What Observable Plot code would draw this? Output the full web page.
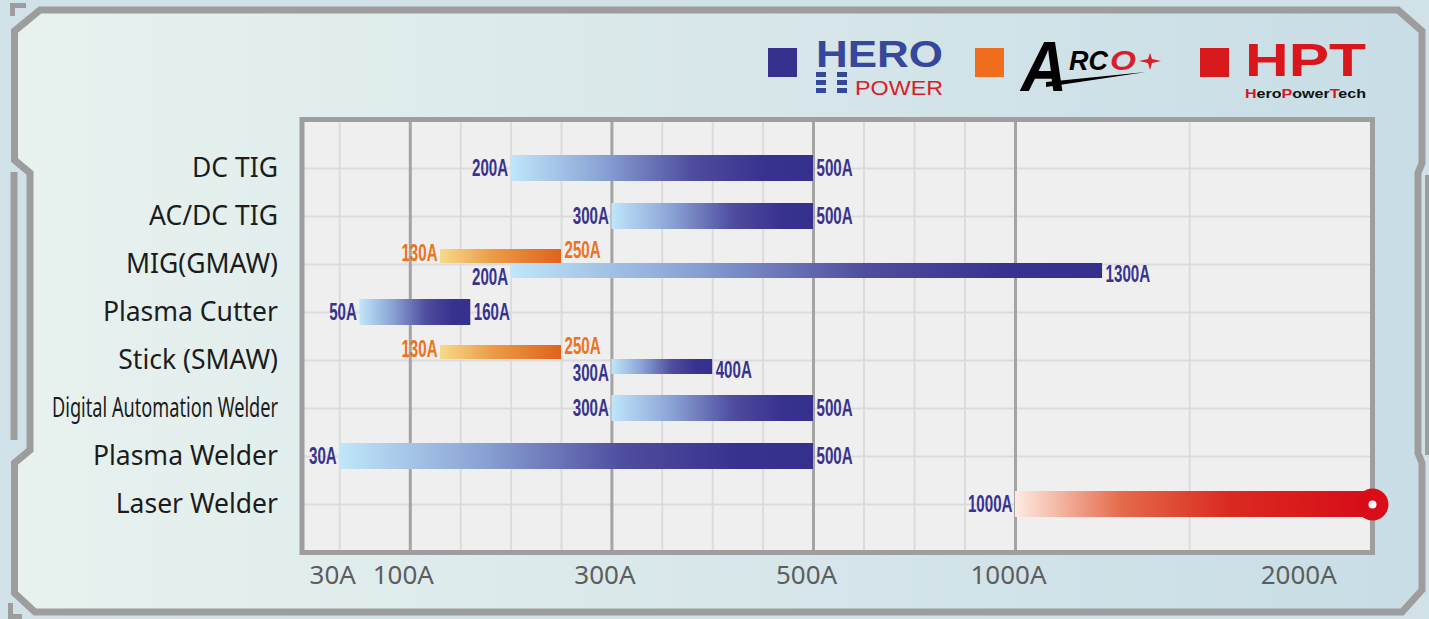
<!DOCTYPE html>
<html><head><meta charset="utf-8">
<script src="https://cdn.jsdelivr.net/npm/d3@7"></script>
<script src="https://cdn.jsdelivr.net/npm/@observablehq/plot@0.6"></script>
<style>
html,body{margin:0;padding:0;background:#cfe0e8;}
#wrap{position:relative;width:1429px;height:619px;overflow:hidden;}
#bg,#legend{position:absolute;left:0;top:0;pointer-events:none;}
#chart{position:absolute;left:0;top:0;}
</style></head><body>
<div id="wrap">
<svg id="bg" width="1429" height="619" viewBox="0 0 1429 619">
  <defs>
    <linearGradient id="bgGrad" x1="0" x2="1" y1="0" y2="0">
      <stop offset="0" stop-color="#e8f2ef"/>
      <stop offset="0.5" stop-color="#d8e7ea"/>
      <stop offset="1" stop-color="#c8dde6"/>
    </linearGradient>
  </defs>
  <rect x="0" y="0" width="1429" height="619" fill="#d0e1e8"/>
  <path d="M40 10 H1398 L1422 31 V163 L1418 173 V453 L1422 463 V590 L1402 612 H35 L14.5 593 V463 L30 450 V173 L14.5 160 V31 Z" fill="url(#bgGrad)" stroke="#9d9d9d" stroke-width="7" stroke-linejoin="miter"/>
  <rect x="10.5" y="172" width="7" height="268" fill="#9d9d9d"/>
  <rect x="1425" y="175" width="6" height="280" fill="#9d9d9d"/>
  <path d="M10 3 H26 V8 H15 V16 H10 Z" fill="#9d9d9d"/>
  <path d="M8 619 V603 H13 V614 H22 V619 Z" fill="#9d9d9d"/>
</svg>
<div id="chart"></div>
<svg id="legend" width="1429" height="619" viewBox="0 0 1429 619">
  <defs>
    <linearGradient id="hptSub" gradientUnits="userSpaceOnUse" x1="1245" x2="1366" y1="0" y2="0">
      <stop offset="0" stop-color="#d8161b"/><stop offset="0.095" stop-color="#d8161b"/>
      <stop offset="0.095" stop-color="#111"/><stop offset="0.299" stop-color="#111"/>
      <stop offset="0.299" stop-color="#d8161b"/><stop offset="0.387" stop-color="#d8161b"/>
      <stop offset="0.387" stop-color="#111"/><stop offset="0.693" stop-color="#111"/>
      <stop offset="0.693" stop-color="#d8161b"/><stop offset="0.773" stop-color="#d8161b"/>
      <stop offset="0.773" stop-color="#111"/><stop offset="1" stop-color="#111"/>
    </linearGradient>
  </defs>
  <rect x="768" y="48" width="29" height="29" fill="#36308f"/>
  <text x="816" y="67" font-family="Liberation Sans" font-weight="bold" font-size="36" fill="#35489b" textLength="127" lengthAdjust="spacingAndGlyphs">HERO</text>
  <g fill="#35489b">
    <rect x="816" y="72" width="10" height="5"/><rect x="816" y="80" width="10" height="5"/><rect x="816" y="88" width="10" height="5"/>
    <rect x="837" y="72" width="10" height="5"/><rect x="837" y="80" width="10" height="5"/><rect x="837" y="88" width="10" height="5"/>
  </g>
  <text x="855" y="95" font-family="Liberation Sans" font-size="21" fill="#d81e2a" textLength="88" lengthAdjust="spacingAndGlyphs">POWER</text>

  <rect x="975" y="48" width="29" height="29" fill="#ef6d1d"/>
  <text x="1021" y="91" font-family="Liberation Sans" font-style="italic" font-weight="bold" font-size="70" fill="#000" textLength="46" lengthAdjust="spacingAndGlyphs">A</text>
  <text x="1069" y="70" font-family="Liberation Sans" font-style="italic" font-weight="bold" font-size="27" fill="#000" textLength="39" lengthAdjust="spacingAndGlyphs">RC</text>
  <text x="1110" y="70" font-family="Liberation Sans" font-style="italic" font-weight="bold" font-size="27" fill="#d81e2a" textLength="26" lengthAdjust="spacingAndGlyphs">O</text>
  <path d="M1150 53 L1152 59 L1161 61 L1152 63 L1150 70 L1148 63 L1139 61 L1148 59 Z" fill="#d81e2a"/>
  <path d="M1046 87 L1146 72 L1046 82 Z" fill="#000"/>

  <rect x="1200" y="48" width="29" height="29" fill="#d7191b"/>
  <text x="1245" y="76" font-family="Liberation Sans" font-weight="bold" font-size="46" fill="#d8161b" textLength="121" lengthAdjust="spacingAndGlyphs">HPT</text>
  <text x="1245" y="97.5" font-family="Liberation Sans" font-weight="bold" font-size="13" fill="url(#hptSub)" textLength="121" lengthAdjust="spacingAndGlyphs">HeroPowerTech</text>
</svg>
</div>
<script>
// ---- data ----
const categories = ["DC TIG","AC/DC TIG","MIG(GMAW)","Plasma Cutter","Stick (SMAW)","Digital Automation Welder","Plasma Welder","Laser Welder"];
const heroProcess = ["DC TIG","AC/DC TIG","MIG(GMAW)","Plasma Cutter","Stick (SMAW)","Digital Automation Welder","Plasma Welder"];
const heroMin = [200,300,200,50,300,300,30];
const heroMax = [500,500,1300,160,400,500,500];
const arcoProcess = ["MIG(GMAW)","Stick (SMAW)"];
const arcoMin = [130,130];
const arcoMax = [250,250];
const hptProcess = ["Laser Welder"];
const hptMin = [1000];
const hptMax = [2230];
const xTicks = [30,100,300,500,1000,2000];
const majorGrid = [100,300,500,1000];
const minorGrid = [30,150,200,250,350,400,450,625,750,875,1600];
const xBreaks = [0,500,1000,2230];

// ---- tables ----
const hero = heroProcess.map((p,i)=>({process:p,min:heroMin[i],max:heroMax[i]}));
const arco = arcoProcess.map((p,i)=>({process:p,min:arcoMin[i],max:arcoMax[i]}));
const hpt = hptProcess.map((p,i)=>({process:p,min:hptMin[i],max:hptMax[i]}));
const heroFull = hero.filter(d=>!arcoProcess.includes(d.process));
const heroSplit = hero.filter(d=>arcoProcess.includes(d.process));

const blueText = "#38338f", orangeText = "#f0701e";
const lab = {fontFamily:"Liberation Sans", fontWeight:"bold", fontSize:24};
const startLab = (data, fill, dy=0) => Plot.text(data,{x:"min",y:"process",text:d=>d.min+"A",textAnchor:"end",dx:-3,dy,fill,...lab});
const endLab = (data, fill, dy=0) => Plot.text(data,{x:"max",y:"process",text:d=>d.max+"A",textAnchor:"start",dx:3,dy,fill,...lab});

const svg = Plot.plot({
  width:1429, height:619,
  marginLeft:301.5, marginRight:57, marginTop:119, marginBottom:67,
  style:{background:"transparent", overflow:"visible"},
  x:{type:"linear", domain:xBreaks, range:[309,813,1015,1372], axis:null},
  y:{type:"band", domain:categories, paddingInner:0.46, paddingOuter:0.73, axis:null},
  marks:[
    Plot.frame({fill:"#efefef"}),
    Plot.ruleX(minorGrid,{stroke:"#dcdcdc",strokeWidth:2}),
    Plot.ruleY(categories,{y:d=>d,stroke:"#dcdcdc",strokeWidth:2}),
    Plot.ruleX(majorGrid,{stroke:"#a4a4a4",strokeWidth:3}),
    Plot.frame({stroke:"#9e9e9e",strokeWidth:5}),
    Plot.barX(heroFull,{x1:"min",x2:"max",y:"process",fill:"url(#gBlue)"}),
    Plot.barX(heroSplit,{x1:"min",x2:"max",y:"process",fill:"url(#gBlue)",insetTop:12,insetBottom:-1}),
    Plot.barX(arco,{x1:"min",x2:"max",y:"process",fill:"url(#gOrange)",insetTop:-2,insetBottom:14}),
    Plot.barX(hpt,{x1:"min",x2:"max",y:"process",fill:"url(#gRed)"}),
    Plot.dot(hpt,{x:"max",y:"process",r:16,fill:"#d90d18"}),
    Plot.dot(hpt,{x:"max",y:"process",r:4,fill:"white"}),
    startLab(heroFull, blueText), endLab(heroFull, blueText),
    startLab(heroSplit, blueText, 13), endLab(heroSplit, blueText, 10),
    startLab(arco, orangeText, -11), endLab(arco, orangeText, -14),
    startLab(hpt, blueText),
    Plot.text(categories,{y:d=>d,text:d=>d,frameAnchor:"left",dx:-24,textAnchor:"end",fontSize:26.5,fontFamily:"Noto Sans",fill:"#1c1c1c"}),
    Plot.text(xTicks,{x:d=>d,text:d=>d+"A",frameAnchor:"bottom",dy:31,dx:-7,fontSize:26,fontFamily:"Noto Sans",fill:"#5d5d5d"})
  ]
});

const defs = d3.select(svg).insert("defs",":first-child");
function grad(id, stops){
  const g = defs.append("linearGradient").attr("id",id).attr("x1",0).attr("x2",1).attr("y1",0).attr("y2",0);
  stops.forEach(([o,c])=>g.append("stop").attr("offset",o).attr("stop-color",c));
}
grad("gBlue",[[0,"#bfe6f9"],[0.3,"#8aa3d5"],[0.6,"#4f4d9e"],[0.85,"#37318f"],[1,"#35308e"]]);
grad("gOrange",[[0,"#f7da8a"],[0.45,"#eb9a45"],[1,"#e0621c"]]);
grad("gRed",[[0,"#fdebe2"],[0.3,"#e46a4a"],[0.6,"#da2a20"],[1,"#d80c18"]]);

document.getElementById("chart").appendChild(svg);

// condense value labels and the long row label like the original lettering
d3.select(svg).selectAll('g[font-family="Liberation Sans"] text').each(function(){
  const L = this.getComputedTextLength();
  this.setAttribute("textLength", (L*0.63).toFixed(1));
  this.setAttribute("lengthAdjust","spacingAndGlyphs");
});
d3.select(svg).selectAll('text').each(function(){
  if (this.textContent === "Digital Automation Welder") {
    this.setAttribute("textLength", 226);
    this.setAttribute("lengthAdjust","spacingAndGlyphs");
  }
});
</script>
</body></html>
